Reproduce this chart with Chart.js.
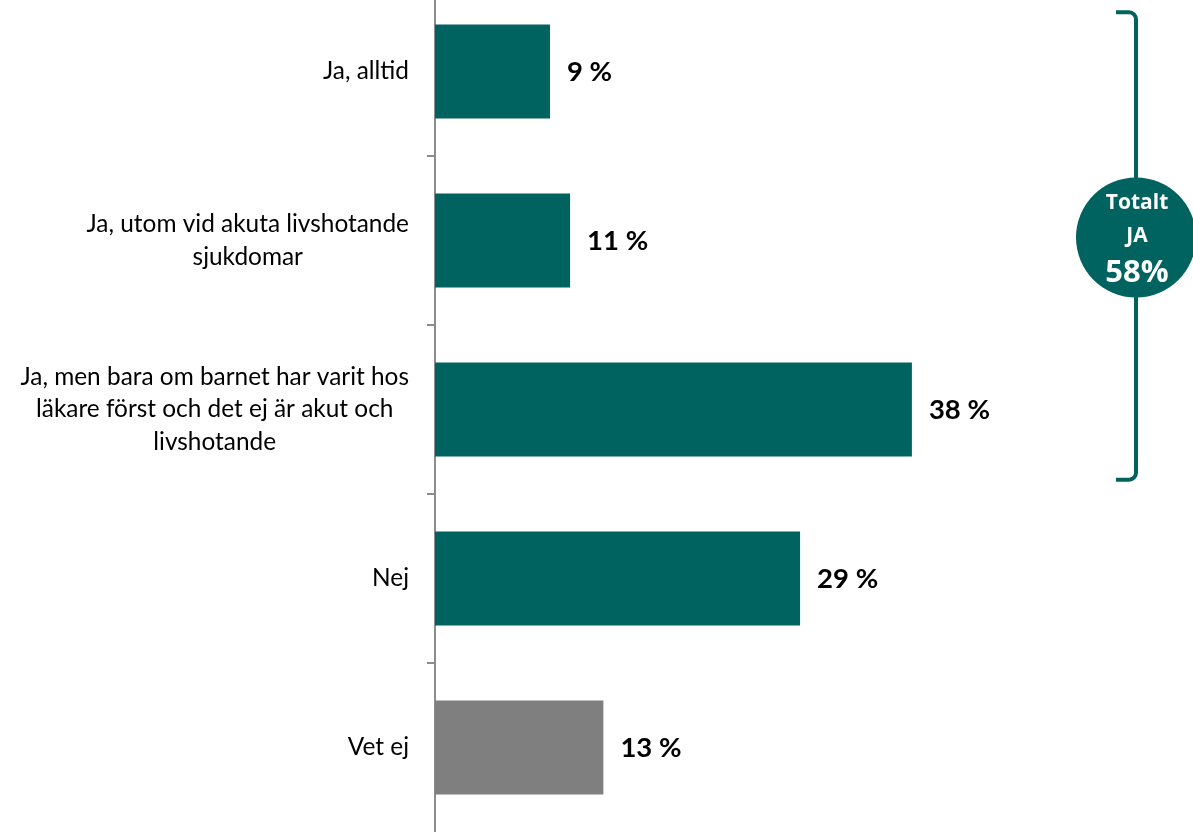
<!DOCTYPE html>
<html>
  <head>
    <title>Totalt JA</title>
    <style>
      html, body { margin: 0; padding: 0; background: #fff; overflow: hidden; }
      #wrap { position: absolute; left: 0; top: -13px; width: 1193px; height: 845px; }
    </style>
  </head>

  <body>
    <div id="wrap">
      <canvas id="canvas"></canvas>
    </div>

    <script src="https://cdn.jsdelivr.net/npm/chart.js@4/dist/chart.umd.min.js"></script>
    <script>
      // data
      const categories = [
        ["Ja, alltid"],
        ["Ja, utom vid akuta livshotande", "sjukdomar"],
        ["Ja, men bara om barnet har varit hos", "läkare först och det ej är akut och", "livshotande"],
        ["Nej"],
        ["Vet ej"],
      ];
      const values = [9.15, 10.75, 37.95, 29.05, 13.4];
      const barColors = ["#00635f", "#00635f", "#00635f", "#00635f", "#7f7f7f"];
      const totalLines = ["Totalt", "JA", "58%"];

      const teal = "#00635f";
      const axisGray = "#8c8c8c";

      // category labels: block right aligned, lines centered
      const catLabels = {
        id: "catLabels",
        afterDraw(chart) {
          const ctx = chart.ctx;
          const y = chart.scales.y;
          const right = 409;
          const lh = 32.5;
          ctx.save();
          ctx.font = "24.4px Lato";
          ctx.fillStyle = "#000";
          ctx.textBaseline = "middle";
          ctx.textAlign = "center";
          categories.forEach((lines, i) => {
            const w = Math.max(...lines.map((l) => ctx.measureText(l).width));
            const cx = right - w / 2;
            const cy = y.getPixelForValue(i);
            lines.forEach((l, j) => {
              ctx.fillText(l, cx, cy + (j - (lines.length - 1) / 2) * lh);
            });
          });
          ctx.restore();
        },
      };

      // value labels at bar end
      const valueLabels = {
        id: "valueLabels",
        afterDatasetsDraw(chart) {
          const ctx = chart.ctx;
          const meta = chart.getDatasetMeta(0);
          ctx.save();
          ctx.font = "bold 27.5px Lato";
          ctx.fillStyle = "#000";
          ctx.textBaseline = "middle";
          ctx.textAlign = "left";
          meta.data.forEach((bar, i) => {
            ctx.fillText(Math.round(values[i]) + " %", bar.x + 17, bar.y + 1);
          });
          ctx.restore();
        },
      };

      // bracket + circle for the first three rows
      const bracket = {
        id: "bracket",
        afterDraw(chart) {
          const ctx = chart.ctx;
          const y = chart.scales.y;
          const band = y.getPixelForValue(1) - y.getPixelForValue(0);
          const top = y.getPixelForValue(0) - band * 0.35;
          const bottom = y.getPixelForValue(2) + band * 0.415;
          const x = 1136, x0 = 1116, r = 7;
          ctx.save();
          ctx.strokeStyle = teal;
          ctx.lineWidth = 4;
          ctx.beginPath();
          ctx.moveTo(x0, top);
          ctx.arcTo(x, top, x, top + r, r);
          ctx.lineTo(x, bottom - r);
          ctx.arcTo(x, bottom, x - r, bottom, r);
          ctx.lineTo(x0, bottom);
          ctx.stroke();

          const cy = y.getPixelForValue(1) - 3;
          ctx.fillStyle = teal;
          ctx.beginPath();
          ctx.arc(1136, cy, 60, 0, Math.PI * 2);
          ctx.fill();

          ctx.fillStyle = "#fff";
          ctx.textAlign = "center";
          ctx.textBaseline = "middle";
          ctx.font = "bold 21px 'Open Sans'";
          ctx.fillText(totalLines[0], 1137, cy - 34);
          ctx.fillText(totalLines[1], 1137, cy - 1);
          ctx.font = "bold 31px 'Open Sans'";
          ctx.fillText(totalLines[2], 1137, cy + 36);
          ctx.restore();
        },
      };

      let config = {
        type: "bar",
        data: {
          labels: categories,
          datasets: [
            {
              data: values,
              backgroundColor: barColors,
              barPercentage: 0.555,
              categoryPercentage: 1,
            },
          ],
        },
        options: {
          indexAxis: "y",
          responsive: true,
          maintainAspectRatio: false,
          animation: false,
          layout: { padding: { left: 0, right: 4, top: 0, bottom: 0 } },
          plugins: {
            legend: { display: false },
            tooltip: { enabled: false },
          },
          scales: {
            x: {
              display: false,
              min: 0,
              max: 60,
            },
            y: {
              afterFit(scale) {
                scale.width = 435;
              },
              ticks: { display: false },
              grid: {
                offset: true,
                drawOnChartArea: false,
                drawTicks: true,
                tickLength: 8,
                // no tick on the closing edge line
                color: (c) => (c.type === "tick" ? axisGray : "rgba(0,0,0,0)"),
                lineWidth: 2,
              },
              border: { display: true, color: axisGray, width: 2 },
            },
          },
        },
        plugins: [catLabels, valueLabels, bracket],
      };

      var ctx = document.getElementById("canvas").getContext("2d");
      var chart = new Chart(ctx, config);
    </script>
  </body>
</html>
